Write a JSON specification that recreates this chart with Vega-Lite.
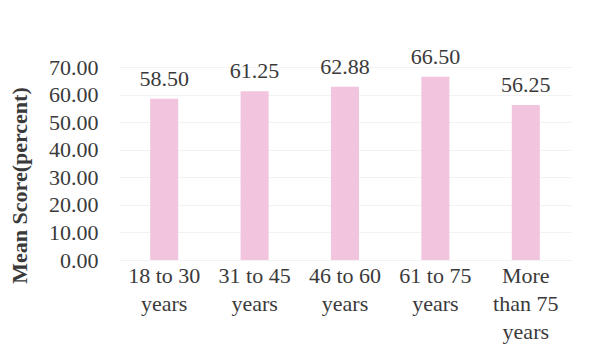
{
  "$schema": "https://vega.github.io/schema/vega-lite/v6.json",
  "width": 452,
  "height": 193,
  "autosize": "none",
  "padding": {"left": 119, "top": 67, "right": 20, "bottom": 97},
  "background": "white",
  "data": {
    "values": [
      {"age": "18 to 30 years", "score": 58.50},
      {"age": "31 to 45 years", "score": 61.25},
      {"age": "46 to 60 years", "score": 62.88},
      {"age": "61 to 75 years", "score": 66.50},
      {"age": "More than 75 years", "score": 56.25}
    ]
  },
  "config": {
    "view": {"stroke": null},
    "font": "Liberation Serif",
    "axis": {"labelFont": "Liberation Serif", "titleFont": "Liberation Serif", "labelColor": "#3a3a3a", "titleColor": "#3a3a3a"}
  },
  "encoding": {
    "x": {
      "field": "age", "type": "nominal", "sort": null,
      "scale": {"paddingInner": 0.69, "paddingOuter": 0.345},
      "axis": {
        "title": null, "labelAngle": 0, "labelFontSize": 22, "labelLineHeight": 28,
        "labelPadding": 22, "ticks": false, "domain": false, "labelBaseline": "alphabetic",
        "labelExpr": "indexof(datum.value,'More')==0 ? ['More','than 75','years'] : [replace(datum.value,' years',''),'years']"
      }
    },
    "y": {
      "field": "score", "type": "quantitative",
      "scale": {"domain": [0, 70], "nice": false},
      "axis": {
        "title": "Mean Score(percent)", "titleFontSize": 22, "titleFontWeight": "bold",
        "titleY": 118, "titleX": -88,
        "values": [0, 10, 20, 30, 40, 50, 60, 70], "format": ".2f",
        "labelFontSize": 22, "labelPadding": 21, "ticks": false, "domain": false,
        "gridColor": "#f2f2f2", "gridWidth": 1
      }
    }
  },
  "layer": [
    {"mark": {"type": "bar", "color": "#f2c4de"}},
    {"mark": {"type": "text", "dy": -13, "baseline": "alphabetic", "fontSize": 22, "color": "#3a3a3a"},
     "encoding": {"text": {"field": "score", "type": "quantitative", "format": ".2f"}}}
  ]
}
